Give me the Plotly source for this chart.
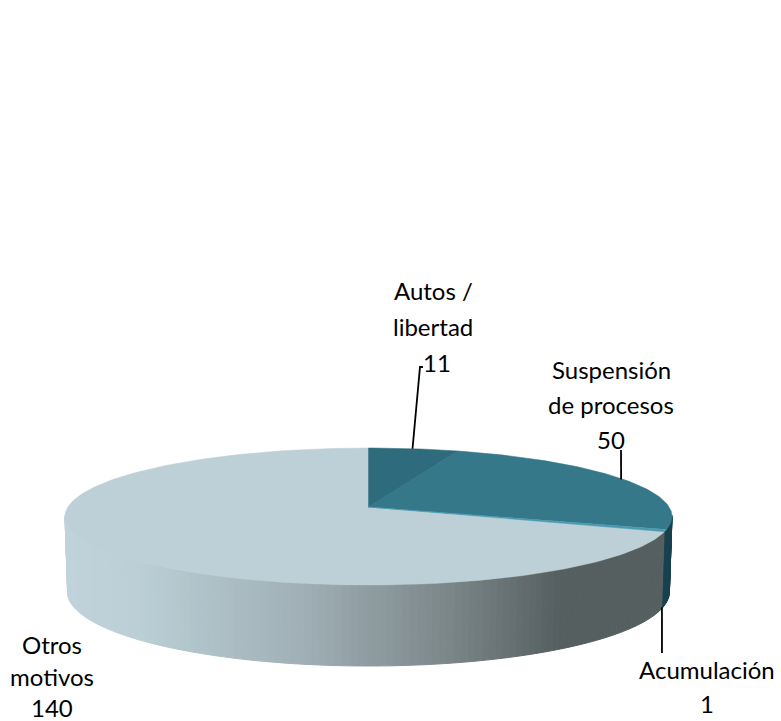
import math
import plotly.graph_objects as go

categories = ["Autos / libertad", "Suspensión de procesos", "Acumulación", "Otros motivos"]
values = [11, 50, 1, 140]

top_colors = ["#2D6B7D", "#347889", "#4A9AB0", "#BDD0D7"]
W, H = 781, 721
CX = 368.5
K = 0.1387
TOP = dict(y0=507.0, a=67.2, b=300.6)
BOT = dict(y0=581.7, a=72.6, b=298.0)
SIDE_STOPS = [(65, (192, 211, 219)), (135, (187, 207, 214)), (300, (160, 176, 182)),
              (450, (123, 134, 137)), (560, (85, 95, 96)), (680, (85, 95, 96))]
SIDE_DARK = "#16414D"


def project(theta_deg, disk):
    t = math.radians(theta_deg)
    X, Y = math.sin(t), math.cos(t)
    d = 1 + K * Y
    return CX + disk["b"] * X / d, disk["y0"] - disk["a"] * Y / d


def side_color(x):
    for (x0, c0), (x1, c1) in zip(SIDE_STOPS, SIDE_STOPS[1:]):
        if x0 <= x <= x1:
            f = (x - x0) / (x1 - x0)
            r, g, b = [round(p + (q - p) * f) for p, q in zip(c0, c1)]
            return f"rgb({r},{g},{b})"
    return "rgb(192,211,219)"


total = sum(values)
edges = [0.0]
for v in values:
    edges.append(edges[-1] + v / total * 360)
mid = [(a + b) / 2 for a, b in zip(edges, edges[1:])]

fig = go.Figure()

# cylinder wall, nearest slices painted as thin strips
theta = 97.0
STEP = 1.25
while theta < 263.0:
    next_theta = theta + STEP
    xa, ya = project(theta, TOP)
    xb, yb = project(next_theta, TOP)
    xc, yc = project(next_theta, BOT)
    xd, yd = project(theta, BOT)
    centre = (theta + next_theta) / 2
    col = SIDE_DARK if centre < edges[3] else side_color((xa + xb) / 2)
    fig.add_trace(go.Scatter(x=[xa, xb, xc, xd, xa], y=[ya, yb, yc, yd, ya], mode="lines",
                             fill="toself", fillcolor=col, line=dict(color=col, width=1),
                             hoverinfo="skip", showlegend=False))
    theta = next_theta

# top face wedges, largest first so that thin ones stay visible
for i in [3, 1, 0, 2]:
    n = max(2, int((edges[i + 1] - edges[i]) / 1.0))
    pts = [project(edges[i] + (edges[i + 1] - edges[i]) * j / n, TOP) for j in range(n + 1)]
    xs = [CX] + [p[0] for p in pts] + [CX]
    ys = [TOP["y0"]] + [p[1] for p in pts] + [TOP["y0"]]
    fig.add_trace(go.Scatter(x=xs, y=ys, mode="lines", fill="toself", fillcolor=top_colors[i],
                             line=dict(color=top_colors[i], width=0.5), name=categories[i],
                             hoverinfo="name", showlegend=False))

# leader lines from each slice's mid angle
leaders = [
    (project(mid[0], TOP), -1, [(420, 367), (423, 367)]),
    (project(mid[1], TOP), -2.5, [(621, 450)]),
    (project(mid[2], BOT), -1, [(662, 653)]),
]
for start, shift, rest in leaders:
    fig.add_trace(go.Scatter(x=[start[0] + shift] + [p[0] for p in rest],
                             y=[start[1]] + [p[1] for p in rest],
                             mode="lines", line=dict(color="#000000", width=1.8),
                             hoverinfo="skip", showlegend=False))

label_lines = [
    (["Autos /", "libertad", str(values[0])], [433, 433, 437], [290, 326, 362]),
    (["Suspensión", "de procesos", str(values[1])], [611, 611, 611], [369, 404, 439]),
    (["Acumulación", str(values[2])], [707, 707], [669, 703]),
    (["Otros", "motivos", str(values[3])], [52, 52, 52], [644, 676, 707]),
]
annotations = []
for lines, xs, ys in label_lines:
    for text, x, y in zip(lines, xs, ys):
        annotations.append(dict(x=x, y=y, xref="x", yref="y", text=text, showarrow=False,
                                xanchor="center", yanchor="middle",
                                font=dict(family="Lato", size=24, color="#000000")))

fig.update_layout(
    width=W, height=H, margin=dict(l=0, r=0, t=0, b=0),
    paper_bgcolor="#FFFFFF", plot_bgcolor="#FFFFFF", annotations=annotations,
    xaxis=dict(range=[0, W], visible=False, fixedrange=True),
    yaxis=dict(range=[H, 0], visible=False, fixedrange=True),
)
fig.write_html("out.html", post_script="document.body.style.margin='0';",
               config={"displayModeBar": False})
